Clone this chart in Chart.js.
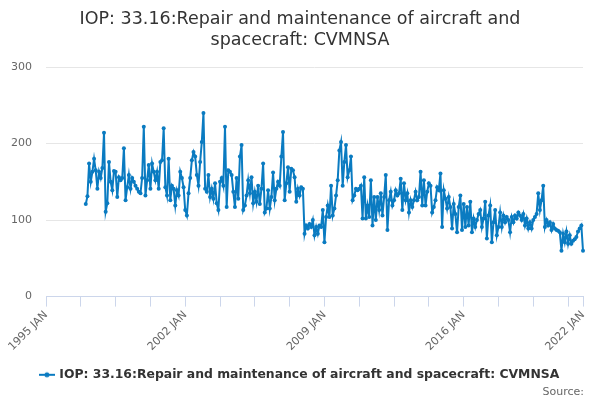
<!DOCTYPE html>
<html>
<head>
<meta charset="utf-8">
<script src="https://cdn.jsdelivr.net/npm/chart.js@4.4.1/dist/chart.umd.min.js"></script>
<style>
html, body { margin: 0; padding: 0; background: #fff; }
</style>
</head>
<body>
<canvas id="chart" width="600" height="400"></canvas>
<script>
// monthly index values
const iop1997to2001 = [121, 131, 174, 150, 163, 180, 165, 141, 163, 155, 168, 214, 111, 122, 176, 150, 139, 164, 163, 130, 156, 152, 155, 194, 126, 143, 159, 141, 155, 150, 145, 141, 137, 135, 155, 222, 132, 152, 172, 141, 174, 163, 152, 163, 141, 176, 178, 220, 143, 132, 180];
const iop2001to2005 = [126, 145, 141, 119, 139, 132, 163, 155, 143, 113, 106, 135, 155, 178, 189, 183, 159, 145, 176, 202, 240, 141, 137, 159, 130, 141, 128, 148, 122, 113, 150, 155, 145, 222, 117, 165, 163, 159, 137, 117, 155, 128, 183, 198, 113, 119, 132, 152, 135, 156, 122];
const iop2005to2009 = [137, 124, 145, 121, 141, 174, 110, 115, 139, 115, 130, 162, 126, 141, 150, 145, 183, 215, 126, 148, 169, 137, 167, 165, 156, 124, 141, 132, 143, 141, 82, 93, 89, 95, 91, 100, 80, 91, 82, 93, 91, 113, 71, 104, 119, 104, 145, 106, 115, 132, 152, 191];
const iop2009to2014 = [202, 145, 176, 198, 156, 165, 183, 126, 132, 141, 139, 141, 145, 102, 156, 102, 119, 104, 152, 93, 130, 100, 130, 113, 135, 106, 130, 159, 87, 126, 137, 119, 126, 139, 132, 135, 154, 113, 148, 126, 135, 110, 126, 117, 126, 137, 126, 130, 163, 119, 152];
const iop2014to2018 = [119, 137, 148, 145, 110, 117, 126, 143, 139, 161, 91, 139, 128, 115, 130, 117, 89, 121, 108, 84, 117, 132, 87, 121, 91, 117, 93, 124, 84, 102, 91, 100, 108, 113, 91, 102, 124, 76, 106, 119, 71, 97, 113, 80, 91, 110, 91, 106, 97, 104, 100];
const iop2018to2022 = [84, 104, 97, 106, 102, 110, 106, 100, 108, 93, 102, 89, 97, 89, 100, 104, 108, 135, 113, 126, 145, 91, 100, 93, 97, 87, 95, 89, 87, 86, 84, 60, 82, 71, 85, 69, 80, 69, 73, 75, 78, 85, 89, 93, 60];

const MONTHS = ['JAN', 'FEB', 'MAR', 'APR', 'MAY', 'JUN', 'JUL', 'AUG', 'SEP', 'OCT', 'NOV', 'DEC'];
const firstYear = 1995;
const lastYear = 2022;
const dataStartYear = 1997;

const labels = [];
for (let y = firstYear; y <= lastYear; y++) {
    MONTHS.forEach((m, i) => {
        if (y < lastYear || i === 0) labels.push(y + ' ' + m);
    });
}
const lead = (dataStartYear - firstYear) * 12;
const values = Array(lead).fill(null).concat(
    iop1997to2001, iop2001to2005, iop2005to2009, iop2009to2014, iop2014to2018, iop2018to2022
);

const lineColor = '#0a7bc1';
const lastIdx = labels.length - 1;
const isTick = i => i % 21 === 0 || i === lastIdx;
const isLabel = i => i % 84 === 0 || i === lastIdx;

// legend symbol: short line with a dot
const marker = document.createElement('canvas');
marker.width = 16;
marker.height = 8;
const mctx = marker.getContext('2d');
mctx.strokeStyle = lineColor;
mctx.lineWidth = 2;
mctx.beginPath();
mctx.moveTo(0, 4);
mctx.lineTo(16, 4);
mctx.stroke();
mctx.fillStyle = lineColor;
mctx.beginPath();
mctx.arc(8, 4, 2.5, 0, Math.PI * 2);
mctx.fill();

const sourceNote = {
    id: 'sourceNote',
    afterLayout(chart) {
        // let the y labels use the left padding too (labels are clipped to the scale box)
        chart.scales.y.left = 0;
    },
    afterDraw(chart) {
        const c = chart.ctx;
        c.save();
        c.font = '11px "DejaVu Sans"';
        c.fillStyle = '#666';
        c.textAlign = 'right';
        c.textBaseline = 'middle';
        c.fillText('Source:', 584, 392);
        c.restore();
    }
};

Chart.defaults.font.family = '"DejaVu Sans", sans-serif';

new Chart(document.getElementById('chart'), {
    type: 'line',
    data: {
        labels: labels,
        datasets: [{
            label: 'IOP: 33.16:Repair and maintenance of aircraft and spacecraft: CVMNSA',
            data: values,
            borderColor: lineColor,
            backgroundColor: lineColor,
            borderWidth: 2,
            pointRadius: 2,
            pointBorderWidth: 0,
            tension: 0
        }]
    },
    options: {
        responsive: false,
        animation: false,
        layout: { padding: { left: 17, right: 17, top: 0, bottom: 9 } },
        plugins: {
            title: {
                display: true,
                text: ['IOP: 33.16:Repair and maintenance of aircraft and', 'spacecraft: CVMNSA'],
                color: '#333',
                font: { size: 17.5, weight: 'normal' },
                padding: { top: 9, bottom: 16 }
            },
            legend: {
                position: 'bottom',
                labels: {
                    usePointStyle: true,
                    pointStyle: marker,
                    color: '#333',
                    font: { size: 12.4, weight: 'bold' },
                    padding: 8
                }
            },
            tooltip: { enabled: false }
        },
        scales: {
            x: {
                grid: {
                    drawOnChartArea: false,
                    drawTicks: true,
                    tickLength: 10,
                    tickColor: ctx => isTick(ctx.index) ? '#ccd6eb' : 'rgba(0,0,0,0)',
                    color: 'rgba(0,0,0,0)'
                },
                border: { color: '#ccd6eb' },
                ticks: {
                    autoSkip: false,
                    minRotation: 45,
                    maxRotation: 45,
                    color: '#666',
                    font: { size: 11 },
                    padding: 2,
                    callback: function (v, i) {
                        return isLabel(i) ? labels[i] : '';
                    }
                },
                afterFit: s => { s.height = 64; }
            },
            y: {
                min: 0,
                max: 300,
                ticks: { stepSize: 100, color: '#666', font: { size: 11 }, padding: 14 },
                grid: { color: '#e6e6e6', drawTicks: false },
                border: { display: false },
                afterFit: s => { s.width = 29; }
            }
        }
    },
    plugins: [sourceNote]
});
</script>
</body>
</html>
